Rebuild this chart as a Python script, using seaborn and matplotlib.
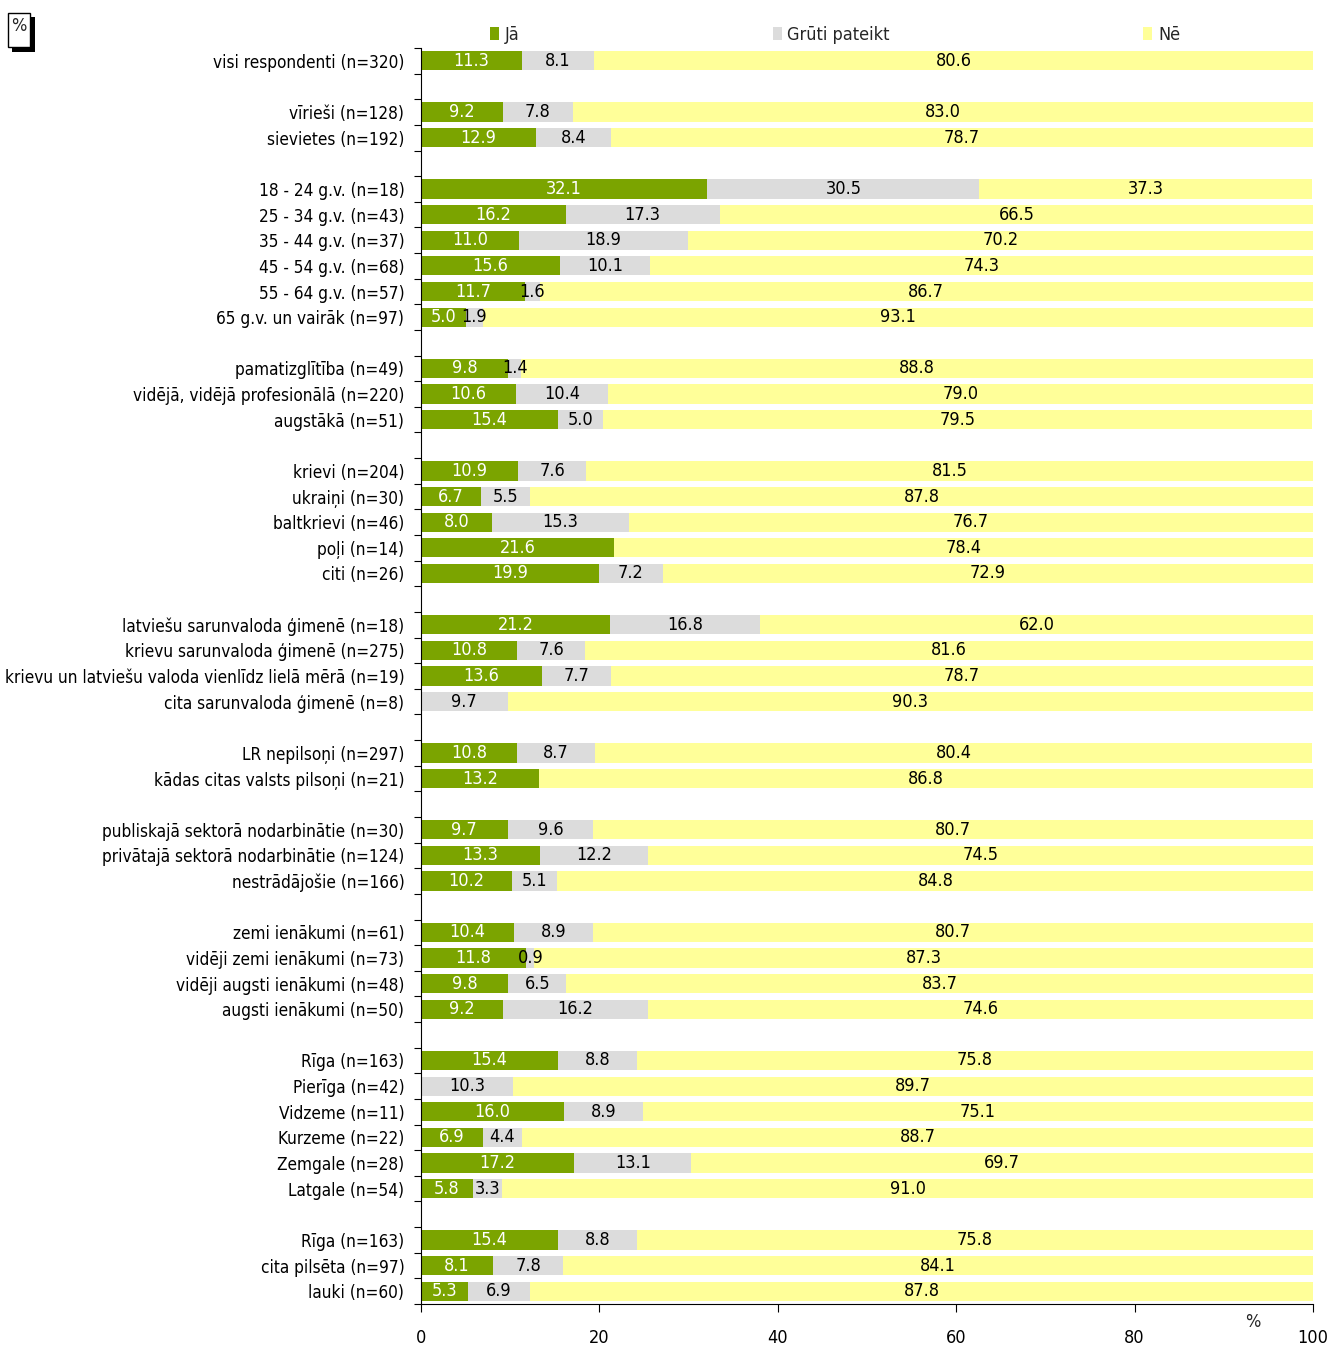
import numpy as np
import pandas as pd
import matplotlib
matplotlib.use('Agg')
import matplotlib.pyplot as plt
import seaborn as sns
from matplotlib.patches import Rectangle, Patch
from matplotlib import font_manager

categories = [
    'visi respondenti (n=320)',
    'vīrieši (n=128)', 'sievietes (n=192)',
    '18 - 24 g.v. (n=18)', '25 - 34 g.v. (n=43)', '35 - 44 g.v. (n=37)',
    '45 - 54 g.v. (n=68)', '55 - 64 g.v. (n=57)', '65 g.v. un vairāk (n=97)',
    'pamatizglītība (n=49)', 'vidējā, vidējā profesionālā (n=220)', 'augstākā (n=51)',
    'krievi (n=204)', 'ukraiņi (n=30)', 'baltkrievi (n=46)', 'poļi (n=14)', 'citi (n=26)',
    'latviešu sarunvaloda ģimenē (n=18)', 'krievu sarunvaloda ģimenē (n=275)',
    'krievu un latviešu valoda vienlīdz lielā mērā (n=19)', 'cita sarunvaloda ģimenē (n=8)',
    'LR nepilsoņi (n=297)', 'kādas citas valsts pilsoņi (n=21)',
    'publiskajā sektorā nodarbinātie (n=30)', 'privātajā sektorā nodarbinātie (n=124)',
    'nestrādājošie (n=166)',
    'zemi ienākumi (n=61)', 'vidēji zemi ienākumi (n=73)', 'vidēji augsti ienākumi (n=48)',
    'augsti ienākumi (n=50)',
    'Rīga (n=163)', 'Pierīga (n=42)', 'Vidzeme (n=11)', 'Kurzeme (n=22)', 'Zemgale (n=28)',
    'Latgale (n=54)',
    'Rīga (n=163)', 'cita pilsēta (n=97)', 'lauki (n=60)',
]
group_sizes = [1, 2, 6, 3, 5, 4, 2, 3, 4, 6, 3]

ja = [11.3, 9.2, 12.9, 32.1, 16.2, 11.0, 15.6, 11.7, 5.0, 9.8, 10.6, 15.4,
      10.9, 6.7, 8.0, 21.6, 19.9, 21.2, 10.8, 13.6, 0.0, 10.8, 13.2,
      9.7, 13.3, 10.2, 10.4, 11.8, 9.8, 9.2, 15.4, 0.0, 16.0, 6.9, 17.2, 5.8,
      15.4, 8.1, 5.3]
gruti = [8.1, 7.8, 8.4, 30.5, 17.3, 18.9, 10.1, 1.6, 1.9, 1.4, 10.4, 5.0,
         7.6, 5.5, 15.3, 0.0, 7.2, 16.8, 7.6, 7.7, 9.7, 8.7, 0.0,
         9.6, 12.2, 5.1, 8.9, 0.9, 6.5, 16.2, 8.8, 10.3, 8.9, 4.4, 13.1, 3.3,
         8.8, 7.8, 6.9]
ne = [80.6, 83.0, 78.7, 37.3, 66.5, 70.2, 74.3, 86.7, 93.1, 88.8, 79.0, 79.5,
      81.5, 87.8, 76.7, 78.4, 72.9, 62.0, 81.6, 78.7, 90.3, 80.4, 86.8,
      80.7, 74.5, 84.8, 80.7, 87.3, 83.7, 74.6, 75.8, 89.7, 75.1, 88.7, 69.7, 91.0,
      75.8, 84.1, 87.8]
series_names = ['Jā', 'Grūti pateikt', 'Nē']
x_ticks = [0, 20, 40, 60, 80, 100]

colors = ['#7BA400', '#DCDCDC', '#FFFF99']

sns.set_theme(style='white')

# choose a narrow font if one is installed
fonts = font_manager.fontManager.ttflist
names = {f.name for f in fonts}
stretch = 'normal'
if 'Liberation Sans Narrow' in names:
    family = ['Liberation Sans Narrow', 'DejaVu Sans']
elif any(f.name == 'DejaVu Sans' and f.stretch == 'condensed' for f in fonts):
    family = ['DejaVu Sans']
    stretch = 'condensed'
else:
    family = ['Liberation Sans', 'DejaVu Sans']
plt.rcParams['font.family'] = family
plt.rcParams['font.stretch'] = stretch
FS = 13

# row positions with a blank row between groups
pos = []
p = 0
for g in group_sizes:
    for _ in range(g):
        pos.append(p)
        p += 1
    p += 1
last = pos[-1]

df = pd.DataFrame({'pos': pos, 'label': categories, 'ja': ja, 'gruti': gruti, 'ne': ne})
df['c1'] = df['ja']
df['c2'] = df['ja'] + df['gruti']
df['c3'] = df['c2'] + df['ne']

W, H = 1330, 1347
fig = plt.figure(figsize=(W / 100, H / 100), dpi=100)
ax = fig.add_axes([421 / W, 43 / H, 892 / W, 1256 / H])

for col, c in [('c3', colors[2]), ('c2', colors[1]), ('c1', colors[0])]:
    sns.barplot(data=df, x=col, y='pos', orient='h', native_scale=True,
                color=c, width=0.75, saturation=1, ax=ax, errorbar=None,
                linewidth=0)

# value labels
for _, r in df.iterrows():
    start = 0.0
    for val, tc in [(r['ja'], 'white'), (r['gruti'], 'black'), (r['ne'], 'black')]:
        if val > 0:
            ax.text(start + val / 2, r['pos'], f'{val:.1f}', ha='center', va='center',
                    color=tc, fontsize=FS)
        start += val

ax.set_xlim(0, 100)
ax.set_ylim(last + 0.5, -0.5)
ax.set_xlabel('')
ax.set_ylabel('')
ax.set_yticks(pos)
ax.set_yticklabels(categories, fontsize=FS)
ax.set_yticks(np.arange(-0.5, last + 1, 1), minor=True)
ax.tick_params(axis='y', which='major', length=0, pad=12, colors='black')
ax.tick_params(axis='y', which='minor', length=5, width=0.8, direction='out',
               color='black', left=True)
ax.set_xticks(x_ticks)
ax.set_xticklabels([str(t) for t in x_ticks], fontsize=FS)
ax.tick_params(axis='x', which='major', length=6, width=0.8, direction='out',
               pad=12, colors='black', bottom=True)
for s in ['top', 'right']:
    ax.spines[s].set_visible(False)
for s in ['left', 'bottom']:
    ax.spines[s].set_color('black')
    ax.spines[s].set_linewidth(0.8)

# make sure the longest y label fits within the figure
fig.canvas.draw()
renderer = fig.canvas.get_renderer()
maxw = max(t.get_window_extent(renderer).width for t in ax.get_yticklabels())
avail = 421 - 12 * 100 / 72 - 6
if maxw > avail:
    newfs = FS * avail / maxw
    for t in ax.get_yticklabels():
        t.set_fontsize(newfs)

fig.text(1253 / W, 1 - 1322 / H, '%', ha='center', va='center', fontsize=FS)

handles = [Patch(facecolor=c, edgecolor='none', label=n) for c, n in zip(colors, series_names)]
fig.legend(handles=handles, ncol=3, mode='expand', loc='center',
           bbox_to_anchor=(490 / W, 1 - 42 / H, 690 / W, 14 / H),
           frameon=False, fontsize=FS, borderpad=0, borderaxespad=0,
           handlelength=0.5, handleheight=0.75, handletextpad=0.3)

# "%" box with shadow, top-left
fig.add_artist(Rectangle((12 / W, 1 - 52 / H), 23 / W, 35 / H, transform=fig.transFigure,
                         facecolor='black', edgecolor='none'))
fig.add_artist(Rectangle((8 / W, 1 - 47 / H), 22 / W, 34 / H, transform=fig.transFigure,
                         facecolor='white', edgecolor='black', linewidth=1))
fig.text(19 / W, 1 - 26 / H, '%', ha='center', va='center', fontsize=FS)

fig.savefig('out.png', dpi=100)
